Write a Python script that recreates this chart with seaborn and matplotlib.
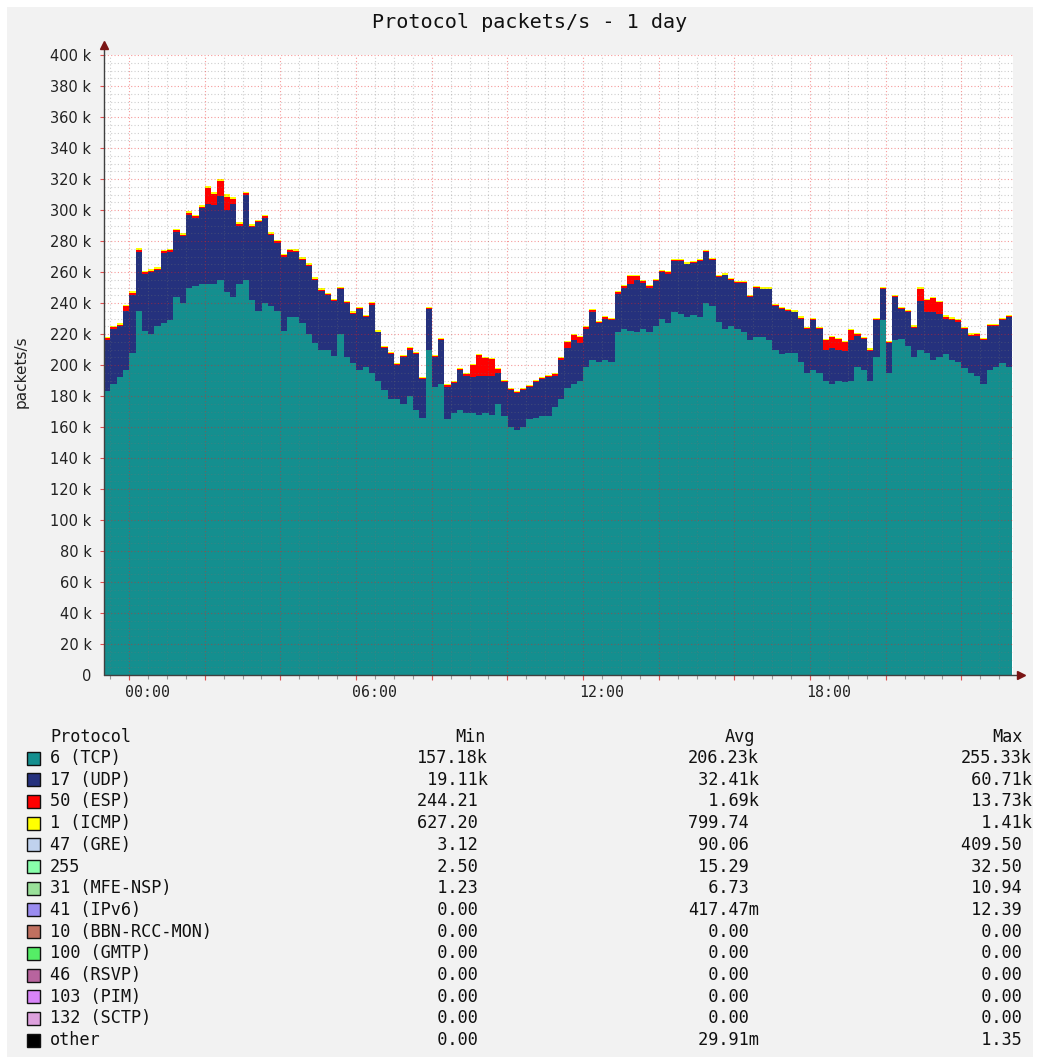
import numpy as np
import pandas as pd
import matplotlib
matplotlib.use("Agg")
import matplotlib.pyplot as plt
import matplotlib.transforms as mtransforms
from matplotlib.patches import Rectangle
import seaborn as sns

# ---- series, k packets/s, one sample every 10 minutes ----
tcp = [183, 188, 192, 197, 208, 235, 222, 220, 225, 227, 229, 244,
       240, 250, 251, 252, 252, 252, 255, 247, 244, 252, 255, 242,
       235, 240, 238, 235, 222, 231, 231, 227, 220, 214, 210, 210,
       206, 220, 205, 201, 197, 199, 195, 190, 184, 178, 178, 175,
       180, 171, 166, 210, 186, 188, 165, 169, 171, 169, 169, 168,
       169, 168, 175, 167, 160, 158, 160, 165, 166, 167, 167, 173,
       178, 185, 188, 190, 199, 203, 202, 203, 202, 221, 223, 222,
       221, 223, 221, 225, 230, 227, 234, 233, 231, 232, 231, 240,
       238, 228, 223, 225, 223, 221, 216, 218, 218, 216, 210, 207,
       208, 208, 202, 195, 197, 195, 190, 188, 190, 189, 190, 199,
       197, 190, 205, 229, 195, 216, 217, 212, 205, 210, 208, 203,
       205, 207, 203, 202, 198, 195, 193, 188, 197, 199, 201, 199]

udp = [33, 35, 33, 38, 37, 38, 37, 40, 36, 45, 44, 42,
       43, 47, 44, 49, 52, 51, 54, 53, 60, 38, 55, 47,
       57, 55, 46, 44, 48, 42, 42, 41, 44, 41, 38, 35,
       35, 29, 35, 32, 39, 32, 44, 31, 27, 29, 22, 30,
       30, 36, 25, 26, 19, 28, 21, 19.5, 26, 24, 23, 25,
       24, 25, 20, 22, 24, 24, 24, 21, 23, 24, 25, 20,
       25, 26, 28, 24, 24, 31, 25, 27, 27, 25, 27, 30,
       34, 30, 29, 29, 30, 32, 33, 34, 34, 34, 36, 33,
       30, 29, 35, 30, 30, 32, 28, 32, 31, 33, 28, 29,
       27, 26, 28, 28, 32, 28, 20, 23, 20, 20, 26, 20,
       19.5, 19.2, 24, 20, 19, 28, 19, 22, 19, 31, 26, 31,
       28, 23, 26, 26, 25, 24, 26, 28, 28, 26, 28, 32]

esp = [1.2, 1.5, 1.1, 2.8, 1.6, 1.3, 1.0, 0.9, 1.1, 1.4, 1.2, 0.9,
       1.0, 1.3, 0.9, 1.1, 10.2, 7.5, 9.8, 8.6, 3.1, 1.0, 0.8, 0.9,
       0.7, 0.9, 0.8, 0.8, 0.7, 0.9, 0.8, 0.6, 0.7, 0.8, 0.7, 0.9,
       0.8, 0.6, 0.7, 0.8, 0.6, 0.7, 0.9, 0.6, 0.5, 0.7, 0.6, 0.8,
       0.7, 0.6, 0.8, 0.7, 0.5, 0.6, 0.8, 0.7, 0.6, 0.9, 8.2, 13.7,
       11.4, 10.8, 2.4, 0.8, 0.6, 0.5, 0.6, 0.7, 0.8, 0.6, 0.7, 0.9,
       1.5, 3.8, 3.2, 4.1, 1.6, 1.2, 0.9, 1.0, 0.8, 0.9, 1.1, 5.2,
       2.4, 0.9, 0.7, 0.8, 0.6, 0.7, 0.5, 0.6, 0.4, 0.5, 0.6, 0.5,
       0.4, 0.5, 0.3, 0.4, 0.5, 0.4, 0.3, 0.4, 0.3, 0.24, 0.4, 0.5,
       0.4, 0.5, 0.6, 0.7, 0.6, 0.8, 6.1, 7.2, 6.8, 5.9, 6.3, 0.9,
       0.8, 0.7, 0.6, 0.5, 0.8, 0.6, 0.7, 0.6, 0.8, 8.3, 8.1, 9.2,
       7.6, 1.2, 0.9, 0.8, 0.7, 0.6, 0.7, 0.8, 0.6, 0.9, 0.8, 0.7]

icmp = [0.82, 0.79, 0.85, 0.91, 0.88, 0.95, 0.87, 0.92, 0.98, 1.02, 0.96, 1.05,
        1.10, 1.08, 1.15, 1.21, 1.12, 1.18, 1.25, 1.41, 1.16, 1.09, 1.13, 1.06,
        1.02, 0.97, 0.94, 0.99, 0.91, 0.88, 0.93, 0.86, 0.84, 0.81, 0.79, 0.83,
        0.78, 0.75, 0.77, 0.72, 0.74, 0.70, 0.73, 0.69, 0.71, 0.68, 0.66, 0.70,
        0.67, 0.65, 0.69, 0.72, 0.64, 0.66, 0.63, 0.65, 0.68, 0.66, 0.70, 0.67,
        0.69, 0.66, 0.68, 0.64, 0.65, 0.63, 0.66, 0.67, 0.69, 0.68, 0.71, 0.70,
        0.72, 0.74, 0.71, 0.75, 0.73, 0.77, 0.76, 0.79, 0.75, 0.78, 0.81, 0.80,
        0.79, 0.83, 0.82, 0.80, 0.84, 0.81, 0.86, 0.83, 0.85, 0.82, 0.87, 0.84,
        0.81, 0.83, 0.79, 0.82, 0.78, 0.80, 0.77, 0.79, 0.76, 0.78, 0.75, 0.77,
        0.74, 0.76, 0.78, 0.75, 0.77, 0.74, 0.76, 0.73, 0.75, 0.78, 0.74, 0.76,
        0.73, 0.75, 0.77, 0.80, 0.76, 0.79, 0.78, 0.81, 0.77, 0.80, 0.79, 0.82,
        0.78, 0.80, 0.77, 0.79, 0.76, 0.78, 0.75, 0.77, 0.79, 0.76, 0.78, 0.80]

# ---- legend table ----
protocols = ["6 (TCP)", "17 (UDP)", "50 (ESP)", "1 (ICMP)", "47 (GRE)", "255",
             "31 (MFE-NSP)", "41 (IPv6)", "10 (BBN-RCC-MON)", "100 (GMTP)",
             "46 (RSVP)", "103 (PIM)", "132 (SCTP)", "other"]
colors = ["#148f8f", "#25317d", "#ff0000", "#ffff00", "#c0d2ee", "#88ffaa",
          "#99e099", "#9a8cf0", "#c07060", "#55ee66", "#b8649e", "#d884f8",
          "#dda0dd", "#000000"]
min_vals = ["157.18k", "19.11k", "244.21", "627.20", "3.12", "2.50", "1.23",
            "0.00", "0.00", "0.00", "0.00", "0.00", "0.00", "0.00"]
avg_vals = ["206.23k", "32.41k", "1.69k", "799.74", "90.06", "15.29", "6.73",
            "417.47m", "0.00", "0.00", "0.00", "0.00", "0.00", "29.91m"]
max_vals = ["255.33k", "60.71k", "13.73k", "1.41k", "409.50", "32.50", "10.94",
            "12.39", "0.00", "0.00", "0.00", "0.00", "0.00", "1.35"]

tick_hours = [0, 6, 12, 18]
tick_labels = ["00:00", "06:00", "12:00", "18:00"]
y_ticks = list(range(0, 401, 20))

start_hour = -1.163
step = 1 / 6

sns.set_style("white")
plt.rcParams["font.family"] = ["DejaVu Sans"]
mono = "DejaVu Sans Mono"

W, H = 1038, 1057
fig = plt.figure(figsize=(W / 100, H / 100), dpi=100, facecolor="white")

# background layer in pixel coordinates
bg = fig.add_axes([0, 0, 1, 1], zorder=-1)
bg.set_xlim(0, W)
bg.set_ylim(H, 0)
bg.axis("off")
bg.add_patch(Rectangle((7, 7), 1026, 1050, facecolor="#f2f2f2", edgecolor="none"))

ax = fig.add_axes([104 / W, 1 - 675 / H, 909 / W, 620 / H])
ax.set_facecolor("white")

n = len(tcp)
edges = [start_hour + i * step for i in range(n + 1)]
centers = [e + step / 2 for e in edges[:-1]]
series = {"6 (TCP)": tcp, "17 (UDP)": udp, "50 (ESP)": esp, "1 (ICMP)": icmp}
df = pd.concat([pd.DataFrame({"hour": centers, "pps": v, "proto": k})
                for k, v in series.items()], ignore_index=True)
pal = dict(zip(protocols, colors))

sns.histplot(data=df, x="hour", weights="pps", hue="proto",
             hue_order=["1 (ICMP)", "50 (ESP)", "17 (UDP)", "6 (TCP)"],
             bins=edges, multiple="stack", element="step", fill=True,
             alpha=1, linewidth=0, palette=pal, legend=False, ax=ax)

ax.set_xlim(start_hour, start_hour + 909 / 37.83)
ax.set_ylim(0, 400)

# grid on top of the areas, like rrdtool
red_grid = (0.92, 0.12, 0.12, 0.45)
gray_grid = (0.45, 0.45, 0.45, 0.35)
for v in np.arange(5, 401, 5):
    ax.axhline(v, color=red_grid if v % 20 == 0 else gray_grid,
               lw=0.8, ls=(0, (1, 2)), zorder=5)
for h in np.arange(-1.0, 23.0, 0.5):
    major = abs(((h + 0.5) % 2)) < 1e-6
    ax.axvline(h, color=red_grid if major else gray_grid,
               lw=0.8, ls=(0, (1, 2)), zorder=5)

for s in ax.spines.values():
    s.set_visible(False)

ax.set_yticks(y_ticks, ["0" if v == 0 else f"{v} k" for v in y_ticks])
ax.set_xticks(tick_hours, tick_labels)
ax.tick_params(axis="y", length=0, pad=9, labelsize=10.5, labelcolor="#222222")
ax.tick_params(axis="x", length=0, pad=7, labelsize=10.7, labelcolor="#222222")
for lab in ax.get_xticklabels():
    lab.set_family(mono)
ax.set_xlabel("")
ax.set_ylabel("")

# axis lines with arrow heads
ax.plot([0, 0], [0, 1.014], transform=ax.transAxes, color="#404040",
        lw=1, clip_on=False, zorder=6)
ax.plot([0, 1.006], [0, 0], transform=ax.transAxes, color="#404040",
        lw=1, clip_on=False, zorder=6)
ax.plot(0, 1.016, marker="^", ms=6, color="#7a1515", transform=ax.transAxes,
        clip_on=False, zorder=7)
ax.plot(1.009, 0, marker=">", ms=6, color="#7a1515", transform=ax.transAxes,
        clip_on=False, zorder=7)

# small tick marks
trans_x = mtransforms.blended_transform_factory(ax.transData, ax.transAxes)
minor_h = np.arange(-1.0, 23.0, 0.5)
ax.vlines(minor_h, -0.006, 0, transform=trans_x, color="#999999", lw=0.8,
          clip_on=False)
ax.vlines(np.arange(-0.5, 23.0, 2.0), -0.008, 0, transform=trans_x,
          color="#e05050", lw=0.8, clip_on=False)
trans_y = mtransforms.blended_transform_factory(ax.transAxes, ax.transData)
ax.hlines(np.arange(20, 401, 20), -0.004, 0, transform=trans_y,
          color="#e05050", lw=0.8, clip_on=False)

# title and y label
bg.text(530, 23, "Protocol packets/s - 1 day", ha="center", va="center",
        family=mono, size=14.5, color="#111111")
bg.text(21, 372, "packets/s", ha="center", va="center", rotation=90,
        size=11, color="#222222")

# legend table
fs = 12.2
bg.text(50, 737, "Protocol", va="center", family=mono, size=fs, color="#111111")
bg.text(455, 737, "Min", va="center", family=mono, size=fs, color="#111111")
bg.text(725, 737, "Avg", va="center", family=mono, size=fs, color="#111111")
bg.text(992, 737, "Max", va="center", family=mono, size=fs, color="#111111")


def cell(s):
    if s[-1] not in "km":
        s = s + " "
    return s.rjust(7)


for k, name in enumerate(protocols):
    y = 758 + k * 21.7
    bg.add_patch(Rectangle((27, y - 6.5), 13, 13, facecolor=colors[k],
                           edgecolor="#111111", lw=1))
    bg.text(50, y, name, va="center", family=mono, size=fs, color="#111111")
    bg.text(417, y, cell(min_vals[k]), va="center", family=mono, size=fs,
            color="#111111")
    bg.text(688, y, cell(avg_vals[k]), va="center", family=mono, size=fs,
            color="#111111")
    bg.text(961, y, cell(max_vals[k]), va="center", family=mono, size=fs,
            color="#111111")

fig.savefig("out.png", dpi=100, facecolor="white")
